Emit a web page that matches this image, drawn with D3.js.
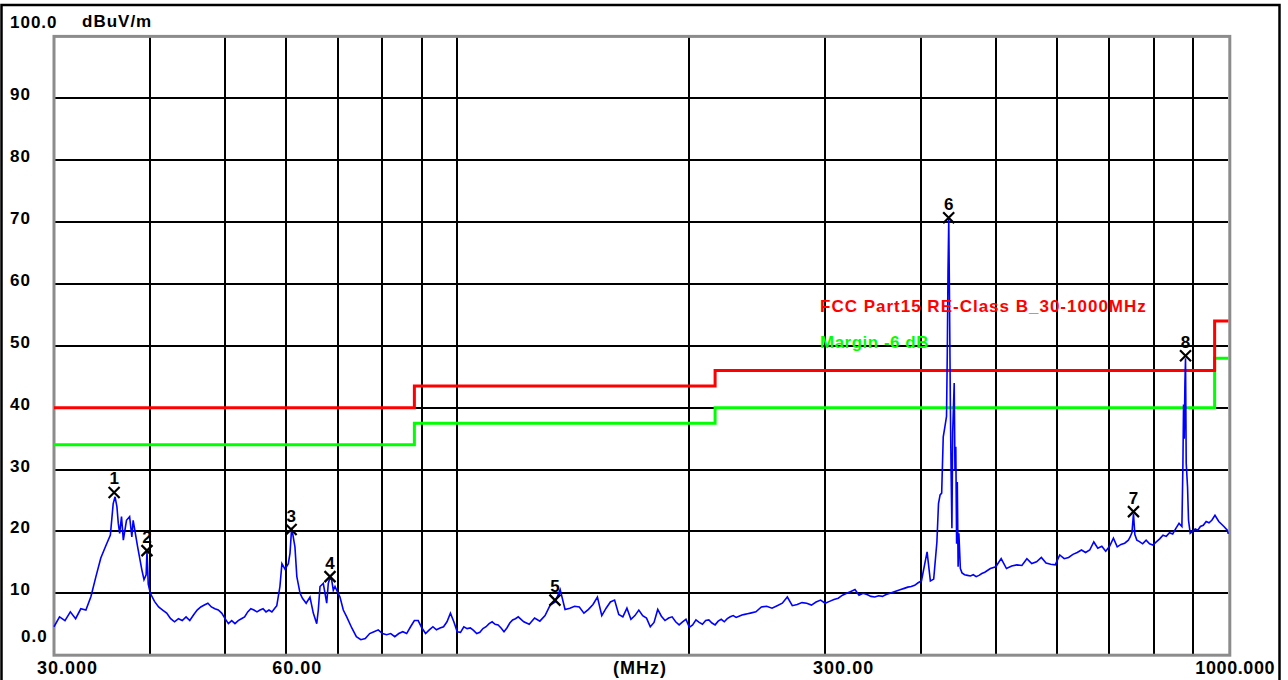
<!DOCTYPE html>
<html><head><meta charset="utf-8">
<script src="https://cdn.jsdelivr.net/npm/d3@7/dist/d3.min.js"></script>
<style>
html,body{margin:0;padding:0;background:#fff;}
svg{display:block;}
text{font-family:"Liberation Sans",Arial,sans-serif;font-weight:bold;}
</style></head><body>
<svg id="c" width="1288" height="680"></svg>
<script>
// ---------- data ----------
const yGridLevels=[10,20,30,40,50,60,70,80,90];
const yTickLabels=["10","20","30","40","50","60","70","80","90"];
const xGridFreqs=[40,50,60,70,80,90,100,200,300,400,500,600,700,800,900];
const xTickFreqs=[30,60,300,1000];
const xTickLabels=["30.000","60.00","300.00","1000.000"];
const limitEdges=[30,88,216,960,1000];
const limitLevels=[40,43.5,46,54];
const marginDb=6;
const markerIds=["1","2","3","4","5","6","7","8"];
const markerFreqs=[35.9,39.6,60.9,68.4,133.9,433.9,753.4,880.1];
const markerLevels=[26.3,16.9,20.3,12.7,8.9,70.7,23.2,48.4];
const limitName="FCC Part15 RE-Class B_30-1000MHz";
const marginName="Margin -6 dB";
// measured trace [MHz, dBuV/m]
const trace=[
[30,4.6],[30.5,6.2],[31,5.6],[31.5,7.0],[32,5.9],[32.5,7.5],[33,7.3],[33.5,9.5],[34,12.7],[34.5,15.7],[35,17.6],[35.5,19.4],
[35.8,24.5],[36,25.6],[36.2,24.0],[36.35,21.3],[36.5,19.7],[36.7,22.4],[36.9,18.6],[37.25,21.8],[37.6,22.4],[37.85,19.1],[38,21.8],
[38.5,17.6],[39,13.8],[39.25,12.2],[39.5,13.0],[39.6,16.8],[39.75,11.5],[40,10.0],[40.5,8.7],[41,7.8],[41.5,7.3],[42,6.8],[42.5,5.9],
[43,5.4],[43.5,5.9],[44,5.6],[44.5,6.2],[45,5.6],[45.5,6.5],[46,7.3],[46.5,7.8],[47,8.1],[47.5,8.4],[48,7.8],[48.5,7.5],[49,7.3],
[49.5,6.8],[50,5.9],[50.5,5.1],[51,5.6],[51.5,5.1],[52,5.6],[52.5,5.9],[53,6.2],[53.5,7.0],[54,7.5],[54.5,7.3],[55,7.0],[55.5,7.3],
[56,7.5],[56.5,7.0],[57,7.3],[57.5,7.0],[58,7.6],[58.35,8.0],[58.9,11.1],[59.25,14.8],[59.8,13.9],[60.4,14.8],[60.7,16.5],[61.0,20.6],
[61.6,17.5],[61.95,12.7],[62.55,10.0],[63,9.2],[63.7,8.4],[64.43,9.4],[65.07,6.8],[65.74,5.1],[66.05,7.3],[66.39,11.1],[67.04,11.6],
[67.73,8.4],[68.05,11.6],[68.4,12.6],[68.75,12.1],[69.08,10.5],[69.43,11.1],[69.78,10.5],[70.47,9.4],[71.17,7.3],[71.9,6.2],[73,4.4],
[74,3.0],[75,2.5],[76,2.7],[77,3.5],[78,3.8],[79,4.1],[80,3.5],[81,3.3],[82,3.5],[83,3.0],[84,3.5],[85,3.8],[86,3.5],[87,4.6],[88,5.6],
[89,5.6],[90,4.4],[91,3.5],[92,4.1],[93,4.6],[94,4.1],[95,4.4],[96,4.6],[97,5.4],[98,6.8],[99,5.4],[100,3.8],[101,3.7],[102,4.6],
[103,4.3],[104,4.4],[105,4.0],[106,3.5],[107,3.7],[108,4.3],[109,4.6],[110,5.1],[111,5.4],[112,5.0],[113,4.9],[114,4.4],[115,3.8],
[116,4.4],[117,5.2],[118,5.7],[119,5.9],
[120,6.2],[122,5.4],[124,5.0],[126,6.0],[128,5.5],[130,6.4],[132,8.1],[134,8.6],[136,10.6],[138,7.4],[140,7.6],[142,7.9],[144,7.8],
[146,6.8],[148,7.4],[150,8.2],[152,9.4],[154,6.4],[156,7.6],[158,8.6],[160,8.9],[162,6.6],[164,6.2],[166,7.6],[168,5.8],[170,6.4],
[172,7.3],[174,6.4],[176,6.0],[178,4.6],[180,5.3],[182,7.4],[184,6.3],[186,5.6],[188,6.0],[190,6.2],[192,5.4],[194,4.9],[196,5.4],
[198,5.8],[200,4.5],[202,4.9],[204,5.7],[206,5.3],[208,5.0],[210,5.6],[212,5.7],[214,5.2],[216,4.9],[218,5.5],[220,5.8],[222,5.4],
[224,5.9],[226,6.2],[228,6.4],[230,6.1],[232,6.3],[234,6.5],[236,6.6],[238,6.7],
[240,6.8],[244,7.0],[248,7.8],[252,7.9],[256,7.6],[260,8.0],[264,8.4],[268,9.4],[272,8.0],[276,8.2],[280,8.5],[284,8.4],[288,8.1],
[292,8.6],[296,8.9],[300,8.4],[304,8.7],[308,9.0],[312,9.2],[316,9.7],[320,10.0],[324,10.3],[328,10.6],[332,9.7],[336,10.0],[340,9.8],
[344,9.5],[348,9.4],[352,9.6],[356,9.5],[360,9.8],[364,10.0],[368,10.2],[372,10.4],[376,10.6],[380,10.8],[384,11.0],[388,11.1],
[392,11.3],[396,11.7],[400,12.0],[406.8,16.7],[410.8,12.0],[414.9,12.3],[418.9,18.3],[420.9,24.5],[422.9,25.9],[424.9,26.2],
[426.9,35.3],[429.0,36.9],[431.1,38.6],[432.1,49],[433.0,61.8],[434.0,70.5],[435.1,55.3],[436.1,40.1],[437.0,30],[438.1,20.5],
[439.1,36],[440.1,40],[441.1,44],[442.1,30],[443.2,33.7],[444.3,18],[445.2,28],[446.3,14.3],[447.3,19.7],[449.3,14.0],[451.5,13.3],
[455,13.0],[459,12.9],[463,12.8],[467,13.0],[471,12.7],[475,12.9],[479,13.2],
[483.3,13.4],[491.4,14.0],[499.5,14.3],[507.5,15.6],[515.6,14.0],[523.7,14.4],[531.8,14.6],[539.9,14.5],[548,15.6],[556,14.8],
[564.1,15.1],[572.2,15.8],[580.3,14.9],[588.4,14.7],[596.5,14.6],[604.5,16.2],[612.6,15.6],[620.7,15.8],[628.8,16.3],[636.9,16.6],
[645,17.0],[653,16.6],[661.1,17.0],[669.2,18.3],[677.3,17.3],[685.4,17.6],[693.5,16.8],[701.5,17.6],[709.6,18.9],[717.7,17.5],
[725.8,17.9],[733.9,18.1],[742,18.6],[746,19.1],[750,19.8],[753.4,22.9],[756.5,19.5],[761,18.6],[766.2,18.4],[774.3,18.0],
[782.4,18.6],[790.5,18.0],[798.5,17.8],[806.6,18.3],[814.7,18.8],[822.8,19.4],[830.9,19.2],[839,19.8],[847,19.6],[855.1,20.5],
[863.2,21.3],[870.6,20.8],[873.3,31],[874.9,40.5],[876.7,35],[878.5,44],[880.1,48.0],[881.9,31],[885.4,27.2],[888,21.8],[892.5,19.7],
[899,20.0],[906,20.4],[913,20.2],[920,20.8],[928,21.0],[936,21.6],[944,21.4],[952,21.8],[961,22.6],[972,21.6],[987,20.8],[997,20.2],
[1000,19.6]
];

// ---------- drawing ----------
const svg=d3.select("#c");
const x=d3.scaleLog().domain([30,1000]).range([54,1228.3]);
const y=d3.scaleLinear().domain([0,100]).range([655.2,36.4]);
const X0=x(30),X1=x(1000),Y0=y(0),Y1=y(100);

// outer frame
svg.append("rect").attr("x",1.5).attr("y",5).attr("width",1278).attr("height",700)
  .attr("fill","none").attr("stroke","#000").attr("stroke-width",2.5);

const grid=svg.append("g").attr("stroke","#000").attr("stroke-width",2).attr("shape-rendering","crispEdges");
grid.selectAll("line.h").data(yGridLevels).join("line").attr("class","h")
  .attr("x1",X0).attr("x2",X1).attr("y1",d=>Math.round(y(d))).attr("y2",d=>Math.round(y(d)));
grid.selectAll("line.v").data(xGridFreqs).join("line").attr("class","v")
  .attr("y1",Y1).attr("y2",Y0).attr("x1",d=>Math.round(x(d))).attr("x2",d=>Math.round(x(d)));

// plot frame (gray)
svg.append("rect").attr("x",X0).attr("y",Y1).attr("width",X1-X0+1.5).attr("height",Y0-Y1)
  .attr("fill","none").attr("stroke","#8c8c8c").attr("stroke-width",3);

// limit & margin lines
const limPts=limitEdges.map((f,i)=>[f,limitLevels[Math.min(i,limitLevels.length-1)]]);
const marPts=limPts.map(p=>[p[0],p[1]-marginDb]);
const stepLine=d3.line().x(d=>x(d[0])).y(d=>y(d[1])).curve(d3.curveStepAfter);
svg.append("path").attr("d",stepLine(marPts)).attr("fill","none").attr("stroke","#00ff00").attr("stroke-width",3);
svg.append("path").attr("d",stepLine(limPts)).attr("fill","none").attr("stroke","#ff0000").attr("stroke-width",3);

// trace
const line=d3.line().x(d=>x(d[0])).y(d=>y(d[1]));
svg.append("path").attr("d",line(trace)).attr("fill","none").attr("stroke","#0000ff").attr("stroke-width",1.6)
  .attr("stroke-linejoin","miter");

// markers
const mk=svg.append("g");
markerIds.forEach((id,i)=>{
  const cx=x(markerFreqs[i]), cy=y(markerLevels[i]);
  const g=mk.append("g");
  g.append("path").attr("d",`M${cx-5.5},${cy-5.5}L${cx+5.5},${cy+5.5}M${cx+5.5},${cy-5.5}L${cx-5.5},${cy+5.5}`)
    .attr("stroke","#000").attr("stroke-width",2.2).attr("fill","none");
  g.append("text").attr("x",cx).attr("y",cy-8).attr("text-anchor","middle")
    .attr("font-size",17).attr("fill","#000").text(id);
});

// y labels
const yl=svg.append("g").attr("font-size",17).attr("letter-spacing",1).attr("fill","#000");
yl.selectAll("text").data(yGridLevels).join("text")
  .attr("x",10).attr("y",d=>y(d)+2).text((d,i)=>yTickLabels[i]);
yl.append("text").attr("x",21).attr("y",Y0-13).text("0.0");
yl.append("text").attr("x",10).attr("y",28).text("100.0");
yl.append("text").attr("x",82).attr("y",27).text("dBuV/m");

// x labels
const xOff=[-17,-14,-12,-33];
const xl=svg.append("g").attr("font-size",18).attr("letter-spacing",1).attr("fill","#000");
xl.selectAll("text").data(xTickFreqs).join("text")
  .attr("x",(d,i)=>x(d)+xOff[i]).attr("y",674).attr("letter-spacing",(d,i)=>i===3?0.6:1).text((d,i)=>xTickLabels[i]);
xl.append("text").attr("x",613).attr("y",674).text("(MHz)");

// legend
svg.append("text").attr("x",820).attr("y",312).attr("font-size",17).attr("letter-spacing",1)
  .attr("fill","#ff0000").text(limitName);
svg.append("text").attr("x",820).attr("y",348).attr("font-size",17).attr("letter-spacing",0.5)
  .attr("fill","#00ff00").text(marginName);
</script>
</body></html>
